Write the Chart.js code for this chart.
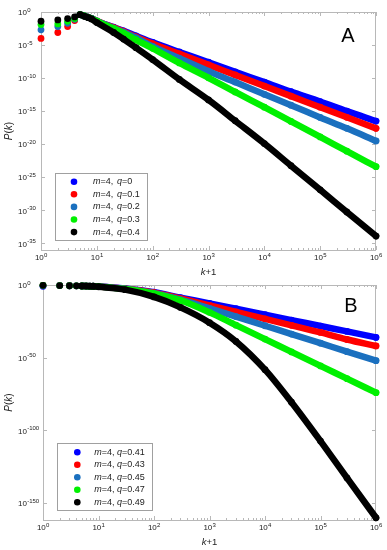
<!DOCTYPE html>
<html>
<head>
<meta charset="utf-8">
<script src="https://cdn.jsdelivr.net/npm/chart.js@4.4.1/dist/chart.umd.min.js"></script>
<style>
  html, body { margin: 0; padding: 0; background: #fff; }
  #wrap { position: relative; width: 387px; height: 550px; }
  canvas { position: absolute; left: 0; }
  #chartA { top: 0; }
  #chartB { top: 278px; }
</style>
</head>
<body>
<div id="wrap">
  <canvas id="chartA" width="387" height="278"></canvas>
  <canvas id="chartB" width="387" height="272"></canvas>
</div>
<script>
// panel A — k+1 and log10 P(k)
const kPlus1A = [1, 2, 3, 4, 5, 6, 7, 8, 10, 20, 30, 50, 100, 300, 1e3, 3e3, 1e4, 3e4, 1e5, 3e5, 1e6];
const qA = ["0", "0.1", "0.2", "0.3", "0.4"];
const logPA_q00 = [null, null, null, null, -0.4, -0.6, -0.8, -0.95, -1.4, -2.3, -2.85, -3.6, -4.6, -6.05, -7.6, -9.05, -10.6, -12.05, -13.55, -15.0, -16.5];
const logPA_q01 = [-4.0, -3.1, -2.2, -1.3, -0.4, -0.6, -0.8, -0.95, -1.35, -2.35, -2.95, -3.75, -4.8, -6.33, -8.0, -9.53, -11.2, -12.73, -14.4, -15.93, -17.6];
const logPA_q02 = [-2.7, -2.2, -1.7, -1.1, -0.4, -0.6, -0.8, -0.95, -1.35, -2.45, -3.05, -3.9, -5.2, -7.0, -8.95, -10.6, -12.45, -14.1, -15.95, -17.6, -19.5];
const logPA_q03 = [-1.9, -1.8, -1.4, -1.0, -0.4, -0.6, -0.8, -1.0, -1.4, -2.5, -3.2, -4.2, -5.5, -7.7, -9.95, -12.1, -14.4, -16.55, -18.9, -21.05, -23.4];
const logPA_q04 = [-1.4, -1.2, -1.0, -0.75, -0.4, -0.65, -0.85, -1.05, -1.6, -3.1, -4.1, -5.4, -7.2, -10.2, -13.3, -16.45, -19.9, -23.25, -26.9, -30.25, -33.9];

// panel B
const kPlus1B = [1, 2, 3, 4, 5, 6, 7, 8, 10, 30, 100, 300, 1e3, 3e3, 1e4, 3e4, 1e5, 3e5, 1e6];
const qB = ["0.41", "0.43", "0.45", "0.47", "0.49"];
const logPB_q41 = [-0.9, -0.4, -0.5, -0.6, -0.7, -0.75, -0.8, -0.85, -1.0, -2.4, -5.0, -8.7, -12.6, -16.3, -20.4, -24.1, -28.2, -31.9, -36.0];
const logPB_q43 = [-0.2, -0.4, -0.5, -0.6, -0.7, -0.75, -0.8, -0.85, -1.0, -2.6, -5.3, -9.3, -14.0, -18.45, -23.3, -27.75, -32.6, -37.45, -41.9];
const logPB_q45 = [-0.2, -0.4, -0.5, -0.6, -0.7, -0.75, -0.8, -0.85, -1.05, -2.7, -5.7, -10.0, -16.0, -21.7, -28.0, -33.7, -40.0, -45.8, -52.0];
const logPB_q47 = [-0.2, -0.4, -0.5, -0.6, -0.7, -0.75, -0.8, -0.85, -1.1, -2.8, -6.0, -10.6, -18.8, -27.6, -37.2, -46.0, -55.6, -64.4, -74.0];
const logPB_q49 = [-0.2, -0.4, -0.5, -0.6, -0.7, -0.75, -0.8, -0.85, -1.2, -3.2, -8.2, -15.4, -25.9, -38.8, -58.2, -80.6, -107.3, -132.6, -160.0];

// tick exponents
const xTickExp = [0, 1, 2, 3, 4, 5, 6];
const yTickExpA = [0, -5, -10, -15, -20, -25, -30, -35];
const yTickExpB = [0, -50, -100, -150];

const colors = ["#0000ff", "#ff0000", "#1b70bf", "#00f000", "#000000"];
const FONT = "'Liberation Sans', Arial, sans-serif";
const lineFrom = 5; // below this k+1 the points stand apart

function makeDatasets(xs, series, qs) {
  return series.map((logs, i) => ({
    label: "m=4, q=" + qs[i],
    data: xs.map((x, j) => ({ x: x, y: logs[j] === null ? null : Math.pow(10, logs[j]) })),
    borderColor: colors[i],
    backgroundColor: colors[i],
    pointBackgroundColor: colors[i],
    borderWidth: 6.5,
    pointRadius: 3.4,
    pointBorderWidth: 0,
    cubicInterpolationMode: "monotone",
    borderCapStyle: "round",
    borderJoinStyle: "round",
    clip: false,
    order: series.length - i,
    segment: {
      borderColor: ctx => (ctx.p0.parsed.x < lineFrom ? "rgba(0,0,0,0)" : undefined)
    }
  }));
}

function drawRuns(ctx, runs, x, y, size) {
  let cx = x;
  runs.forEach(([txt, it]) => {
    ctx.font = (it ? "italic " : "") + size + "px " + FONT;
    ctx.fillText(txt, cx, y);
    cx += ctx.measureText(txt).width;
  });
}

function runsWidth(ctx, runs, size) {
  return runs.reduce((w, [txt, it]) => {
    ctx.font = (it ? "italic " : "") + size + "px " + FONT;
    return w + ctx.measureText(txt).width;
  }, 0);
}

function powLabel(ctx, e, x, y, centered) {
  const base = "10", exp = String(e);
  ctx.font = "8px " + FONT;
  const wb = ctx.measureText(base).width;
  ctx.font = "6px " + FONT;
  const we = ctx.measureText(exp).width;
  const x0 = centered ? x - (wb + we) / 2 : x;
  ctx.font = "8px " + FONT;
  ctx.fillText(base, x0, y);
  ctx.font = "6px " + FONT;
  ctx.fillText(exp, x0 + wb + 0.3, y - 3);
}

const decor = {
  id: "decor",
  beforeDatasetsDraw(chart, args, o) {
    const { ctx, chartArea: a } = chart;
    const sx = chart.scales.x, sy = chart.scales.y;
    ctx.save();
    ctx.strokeStyle = "#b8b8b8";
    ctx.lineWidth = 1;
    ctx.strokeRect(a.left + 0.5, a.top + 0.5, a.right - a.left - 1, a.bottom - a.top);
    ctx.beginPath();
    xTickExp.forEach(e => {
      for (let m = 1; m < 10; m++) {
        if (e === xTickExp[xTickExp.length - 1] && m > 1) break;
        const px = Math.round(sx.getPixelForValue(m * Math.pow(10, e))) + 0.5;
        const len = m === 1 ? 4 : 2;
        ctx.moveTo(px, a.bottom); ctx.lineTo(px, a.bottom - len);
        ctx.moveTo(px, a.top); ctx.lineTo(px, a.top + len);
      }
    });
    o.yExp.forEach(e => {
      const py = Math.round(sy.getPixelForValue(Math.pow(10, e))) + 0.5;
      ctx.moveTo(a.left, py); ctx.lineTo(a.left + 4, py);
      ctx.moveTo(a.right, py); ctx.lineTo(a.right - 4, py);
    });
    ctx.stroke();

    // tick labels
    ctx.fillStyle = "#222";
    ctx.textBaseline = "middle";
    ctx.textAlign = "left";
    xTickExp.forEach(e => powLabel(ctx, e, sx.getPixelForValue(Math.pow(10, e)), a.bottom + 8, true));
    o.yExp.forEach(e => powLabel(ctx, e, 18, sy.getPixelForValue(Math.pow(10, e)) + 1, false));

    // axis titles
    const xr = [["k", true], ["+1", false]];
    drawRuns(ctx, xr, (a.left + a.right) / 2 - runsWidth(ctx, xr, 9.5) / 2, o.xTitleY, 9.5);
    const yr = [["P", true], ["(", false], ["k", true], [")", false]];
    ctx.save();
    ctx.translate(9, (a.top + a.bottom) / 2);
    ctx.rotate(-Math.PI / 2);
    drawRuns(ctx, yr, -runsWidth(ctx, yr, 10) / 2, 0, 10);
    ctx.restore();

    // panel letter
    ctx.fillStyle = "#000";
    ctx.textAlign = "center";
    ctx.font = "20px " + FONT;
    ctx.fillText(o.letter, o.letterX, o.letterY);
    ctx.restore();
  },
  afterDatasetsDraw(chart, args, o) {
    const ctx = chart.ctx, L = o.legend;
    ctx.save();
    ctx.fillStyle = "#fff";
    ctx.fillRect(L.x, L.y, L.w, L.h);
    ctx.strokeStyle = "#a0a0a0";
    ctx.lineWidth = 1;
    ctx.strokeRect(L.x + 0.5, L.y + 0.5, L.w, L.h);
    ctx.textBaseline = "middle";
    ctx.textAlign = "left";
    chart.data.datasets.forEach((ds, i) => {
      const ry = L.rowY + i * L.step;
      ctx.fillStyle = ds.borderColor;
      ctx.beginPath();
      ctx.arc(L.dotX, ry, 3.3, 0, Math.PI * 2);
      ctx.fill();
      ctx.fillStyle = "#222";
      drawRuns(ctx, [["m", true], ["=4,", false]], L.textX, ry, 9);
      drawRuns(ctx, [["q", true], ["=" + o.q[i], false]], L.qX, ry, 9);
    });
    ctx.restore();
  }
};

function makeChart(id, xs, series, qs, yMin, padding, decorOpts) {
  return new Chart(document.getElementById(id), {
    type: "line",
    data: { datasets: makeDatasets(xs, series, qs) },
    options: {
      responsive: false,
      animation: false,
      devicePixelRatio: 1,
      layout: { padding: padding },
      scales: {
        x: { type: "logarithmic", min: 1, max: 1e6, display: false },
        y: { type: "logarithmic", min: yMin, max: 1, display: false }
      },
      plugins: {
        legend: { display: false },
        tooltip: { enabled: false },
        decor: decorOpts
      }
    },
    plugins: [decor]
  });
}

makeChart("chartA", kPlus1A, [logPA_q00, logPA_q01, logPA_q02, logPA_q03, logPA_q04], qA, 1e-36,
  { left: 41, right: 11, top: 12, bottom: 28 },
  {
    yExp: yTickExpA, letter: "A", letterX: 348, letterY: 36, xTitleY: 272.5, q: qA,
    legend: { x: 55, y: 173, w: 92, h: 67, dotX: 74, rowY: 181.7, step: 12.6, textX: 93, qX: 117 }
  });

makeChart("chartB", kPlus1B, [logPB_q41, logPB_q43, logPB_q45, logPB_q47, logPB_q49], qB, 3e-162,
  { left: 43, right: 11, top: 7, bottom: 30 },
  {
    yExp: yTickExpB, letter: "B", letterX: 351, letterY: 28, xTitleY: 264.5, q: qB,
    legend: { x: 57, y: 165, w: 95, h: 67, dotX: 77.3, rowY: 174.3, step: 12.5, textX: 94.3, qX: 117 }
  });
</script>
</body>
</html>
